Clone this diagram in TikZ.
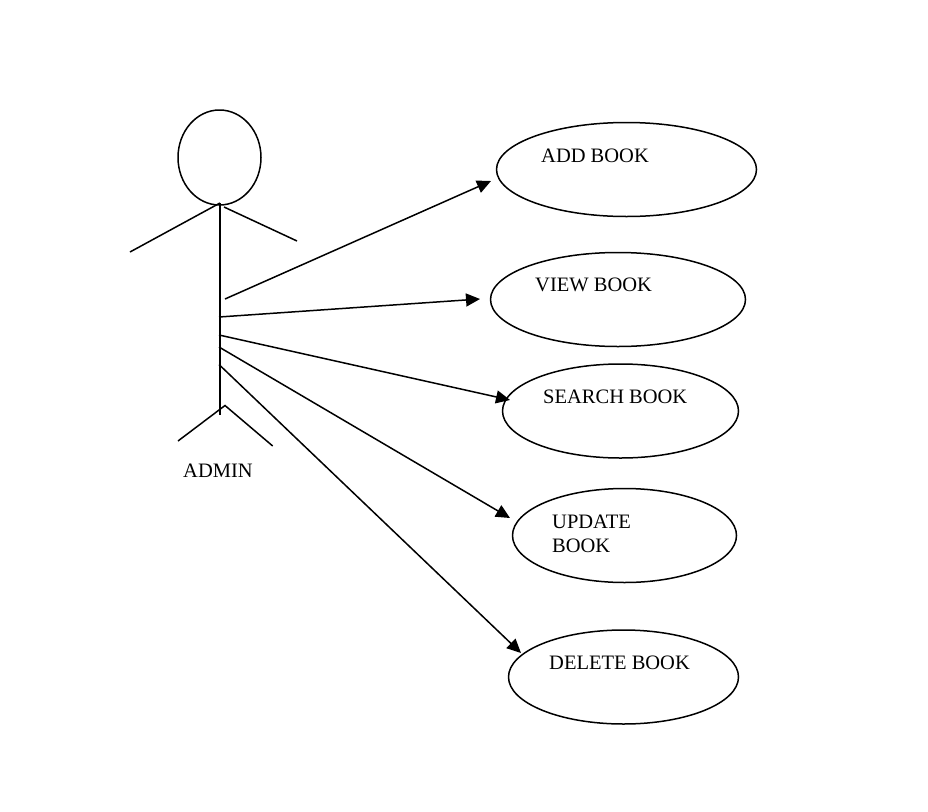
\documentclass[tikz,border=0pt]{standalone}
\usepackage{fontspec}
\setmainfont{Liberation Serif}
\usetikzlibrary{arrows.meta,shapes.geometric}
\tikzset{
  usecase/.style={ellipse,draw=black,line width=1.5pt,minimum width=#1,inner sep=0pt},
  lbl/.style={anchor=west,font=\fontsize{20.5}{24}\selectfont,inner sep=0pt,align=left},
  link/.style={line width=1.5pt,-{Triangle[length=14pt,width=13pt]}},
  stick/.style={line width=1.5pt}
}
\begin{document}
\begin{tikzpicture}[x=1pt,y=-1pt,yscale=1]
\useasboundingbox (0,0) rectangle (928,811);
\fill[white] (0,0) rectangle (928,811);
% head
\node[ellipse,draw,line width=1.5pt,minimum width=83pt,minimum height=95pt,inner sep=0pt] (head) at (219.5,157.5) {};
% stick figure
\coordinate (neck) at (220,203);
\coordinate (hip) at (220,415);
\coordinate (armL) at (130,252);
\coordinate (armLs) at (220,203);
\coordinate (armRs) at (224,207);
\coordinate (armR) at (297,241);
\coordinate (apex) at (225,405.5);
\coordinate (legL) at (178,441);
\coordinate (legR) at (272.7,446);
\draw[stick] (neck) -- (hip);
\draw[stick] (armLs) -- (armL);
\draw[stick] (armRs) -- (armR);
\draw[stick,line join=miter] (legL) -- (apex) -- (legR);
\node[lbl] (admin) at (183,471) {ADMIN};
% use cases
\node[usecase=260pt,minimum height=94pt] (add) at (626.5,169.5) {};
\node[usecase=255pt,minimum height=94pt] (view) at (618,299.5) {};
\node[usecase=236pt,minimum height=94pt] (search) at (620.5,411) {};
\node[usecase=224pt,minimum height=94pt] (update) at (624.5,535.5) {};
\node[usecase=230pt,minimum height=94pt] (delete) at (623.5,677) {};
\node[lbl] (addt) at (541,156) {ADD BOOK};
\node[lbl] (viewt) at (535,285) {VIEW BOOK};
\node[lbl] (searcht) at (543,397) {SEARCH BOOK};
\node[lbl,text width=120pt] (updatet) at (552,534) {UPDATE\\BOOK};
\node[lbl] (deletet) at (549,663) {DELETE BOOK};
% connector ends
\coordinate (s1) at (225,299);
\coordinate (e1) at (491,181);
\coordinate (s2) at (219,317);
\coordinate (e2) at (480,299);
\coordinate (s3) at (219,335);
\coordinate (e3) at (510,400);
\coordinate (s4) at (219,347);
\coordinate (e4) at (510,518);
\coordinate (s5) at (219,364.5);
\coordinate (e5) at (521,653);
\draw[link] (s1) -- (e1);
\draw[link] (s2) -- (e2);
\draw[link] (s3) -- (e3);
\draw[link] (s4) -- (e4);
\draw[link] (s5) -- (e5);
\end{tikzpicture}
\end{document}
